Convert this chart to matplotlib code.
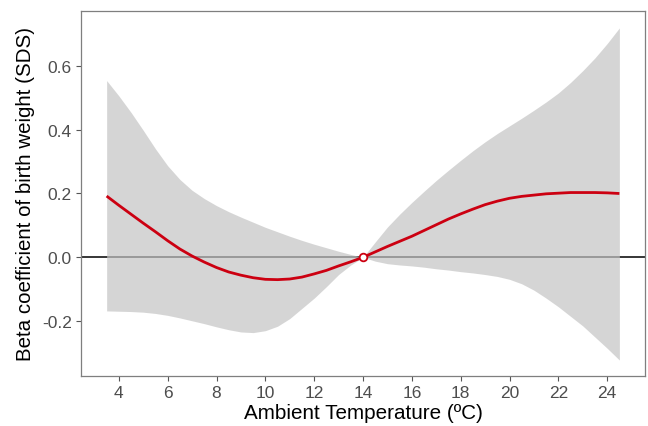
import numpy as np
import matplotlib
matplotlib.use("Agg")
import matplotlib.pyplot as plt

plt.rcParams['font.family'] = ['Liberation Sans', 'DejaVu Sans']

temperature = [3.5, 4, 4.5, 5, 5.5, 6, 6.5, 7, 7.5, 8, 8.5, 9, 9.5, 10, 10.5,
               11, 11.5, 12, 12.5, 13, 13.5, 14, 14.5, 15, 15.5, 16, 16.5, 17,
               17.5, 18, 18.5, 19, 19.5, 20, 20.5, 21, 21.5, 22, 22.5, 23, 23.5,
               24, 24.5]
beta = [0.192, 0.163, 0.135, 0.107, 0.080, 0.052, 0.026, 0.004, -0.015, -0.032,
        -0.046, -0.056, -0.064, -0.069, -0.070, -0.068, -0.062, -0.052, -0.041,
        -0.027, -0.014, 0.0, 0.017, 0.034, 0.050, 0.066, 0.084, 0.102, 0.120,
        0.136, 0.151, 0.165, 0.176, 0.185, 0.191, 0.195, 0.199, 0.201, 0.203,
        0.203, 0.203, 0.202, 0.200]
upper = [0.554, 0.506, 0.454, 0.398, 0.340, 0.287, 0.244, 0.210, 0.184, 0.162,
         0.143, 0.126, 0.110, 0.094, 0.080, 0.066, 0.053, 0.041, 0.030, 0.019,
         0.009, 0.0, 0.048, 0.095, 0.135, 0.172, 0.207, 0.241, 0.273, 0.304,
         0.334, 0.362, 0.388, 0.412, 0.436, 0.461, 0.487, 0.515, 0.548, 0.585,
         0.625, 0.670, 0.719]
lower = [-0.168, -0.169, -0.170, -0.172, -0.176, -0.182, -0.190, -0.199, -0.208,
         -0.218, -0.227, -0.234, -0.236, -0.230, -0.216, -0.192, -0.160, -0.128,
         -0.092, -0.054, -0.024, 0.0, -0.012, -0.020, -0.024, -0.027, -0.031,
         -0.036, -0.040, -0.045, -0.049, -0.054, -0.060, -0.069, -0.083, -0.103,
         -0.128, -0.155, -0.185, -0.215, -0.250, -0.285, -0.322]
ref_temp = 14
x_ticks = [4, 6, 8, 10, 12, 14, 16, 18, 20, 22, 24]
y_ticks = [-0.2, 0.0, 0.2, 0.4, 0.6]

fig = plt.figure(figsize=(6.48, 4.27), dpi=100)
ax = fig.add_axes([0.125, 0.1171, 0.8704, 0.8548])

ax.axhline(0, color='black', lw=1.1, zorder=1)
ax.fill_between(temperature, lower, upper, color=(0.77, 0.77, 0.77), alpha=0.7,
                lw=0, zorder=2)
ax.plot(temperature, beta, color='#cc0011', lw=2.0, zorder=3,
        solid_capstyle='butt')
ax.plot([ref_temp], [0], marker='o', ms=5.5, mfc='white', mec='#cc0011',
        mew=1.3, zorder=4)

ax.set_xlim(2.45, 25.55)
ax.set_ylim(-0.372, 0.772)
ax.set_xticks(x_ticks)
ax.set_xticklabels([str(v) for v in x_ticks])
ax.set_yticks(y_ticks)
ax.set_yticklabels([f"{v:.1f}" for v in y_ticks])

for s in ax.spines.values():
    s.set_color('#7f7f7f')
    s.set_linewidth(0.9)
ax.tick_params(axis='both', colors='#555555', length=3.5, width=0.8,
               labelsize=12.5, labelcolor='#4d4d4d', pad=3)

ax.set_xlabel('Ambient Temperature (ºC)', fontsize=14.9, color='black', labelpad=2)
ax.set_ylabel('Beta coefficient of birth weight (SDS)', fontsize=14.8,
              color='black', labelpad=5)

fig.savefig('out.png', dpi=100)
